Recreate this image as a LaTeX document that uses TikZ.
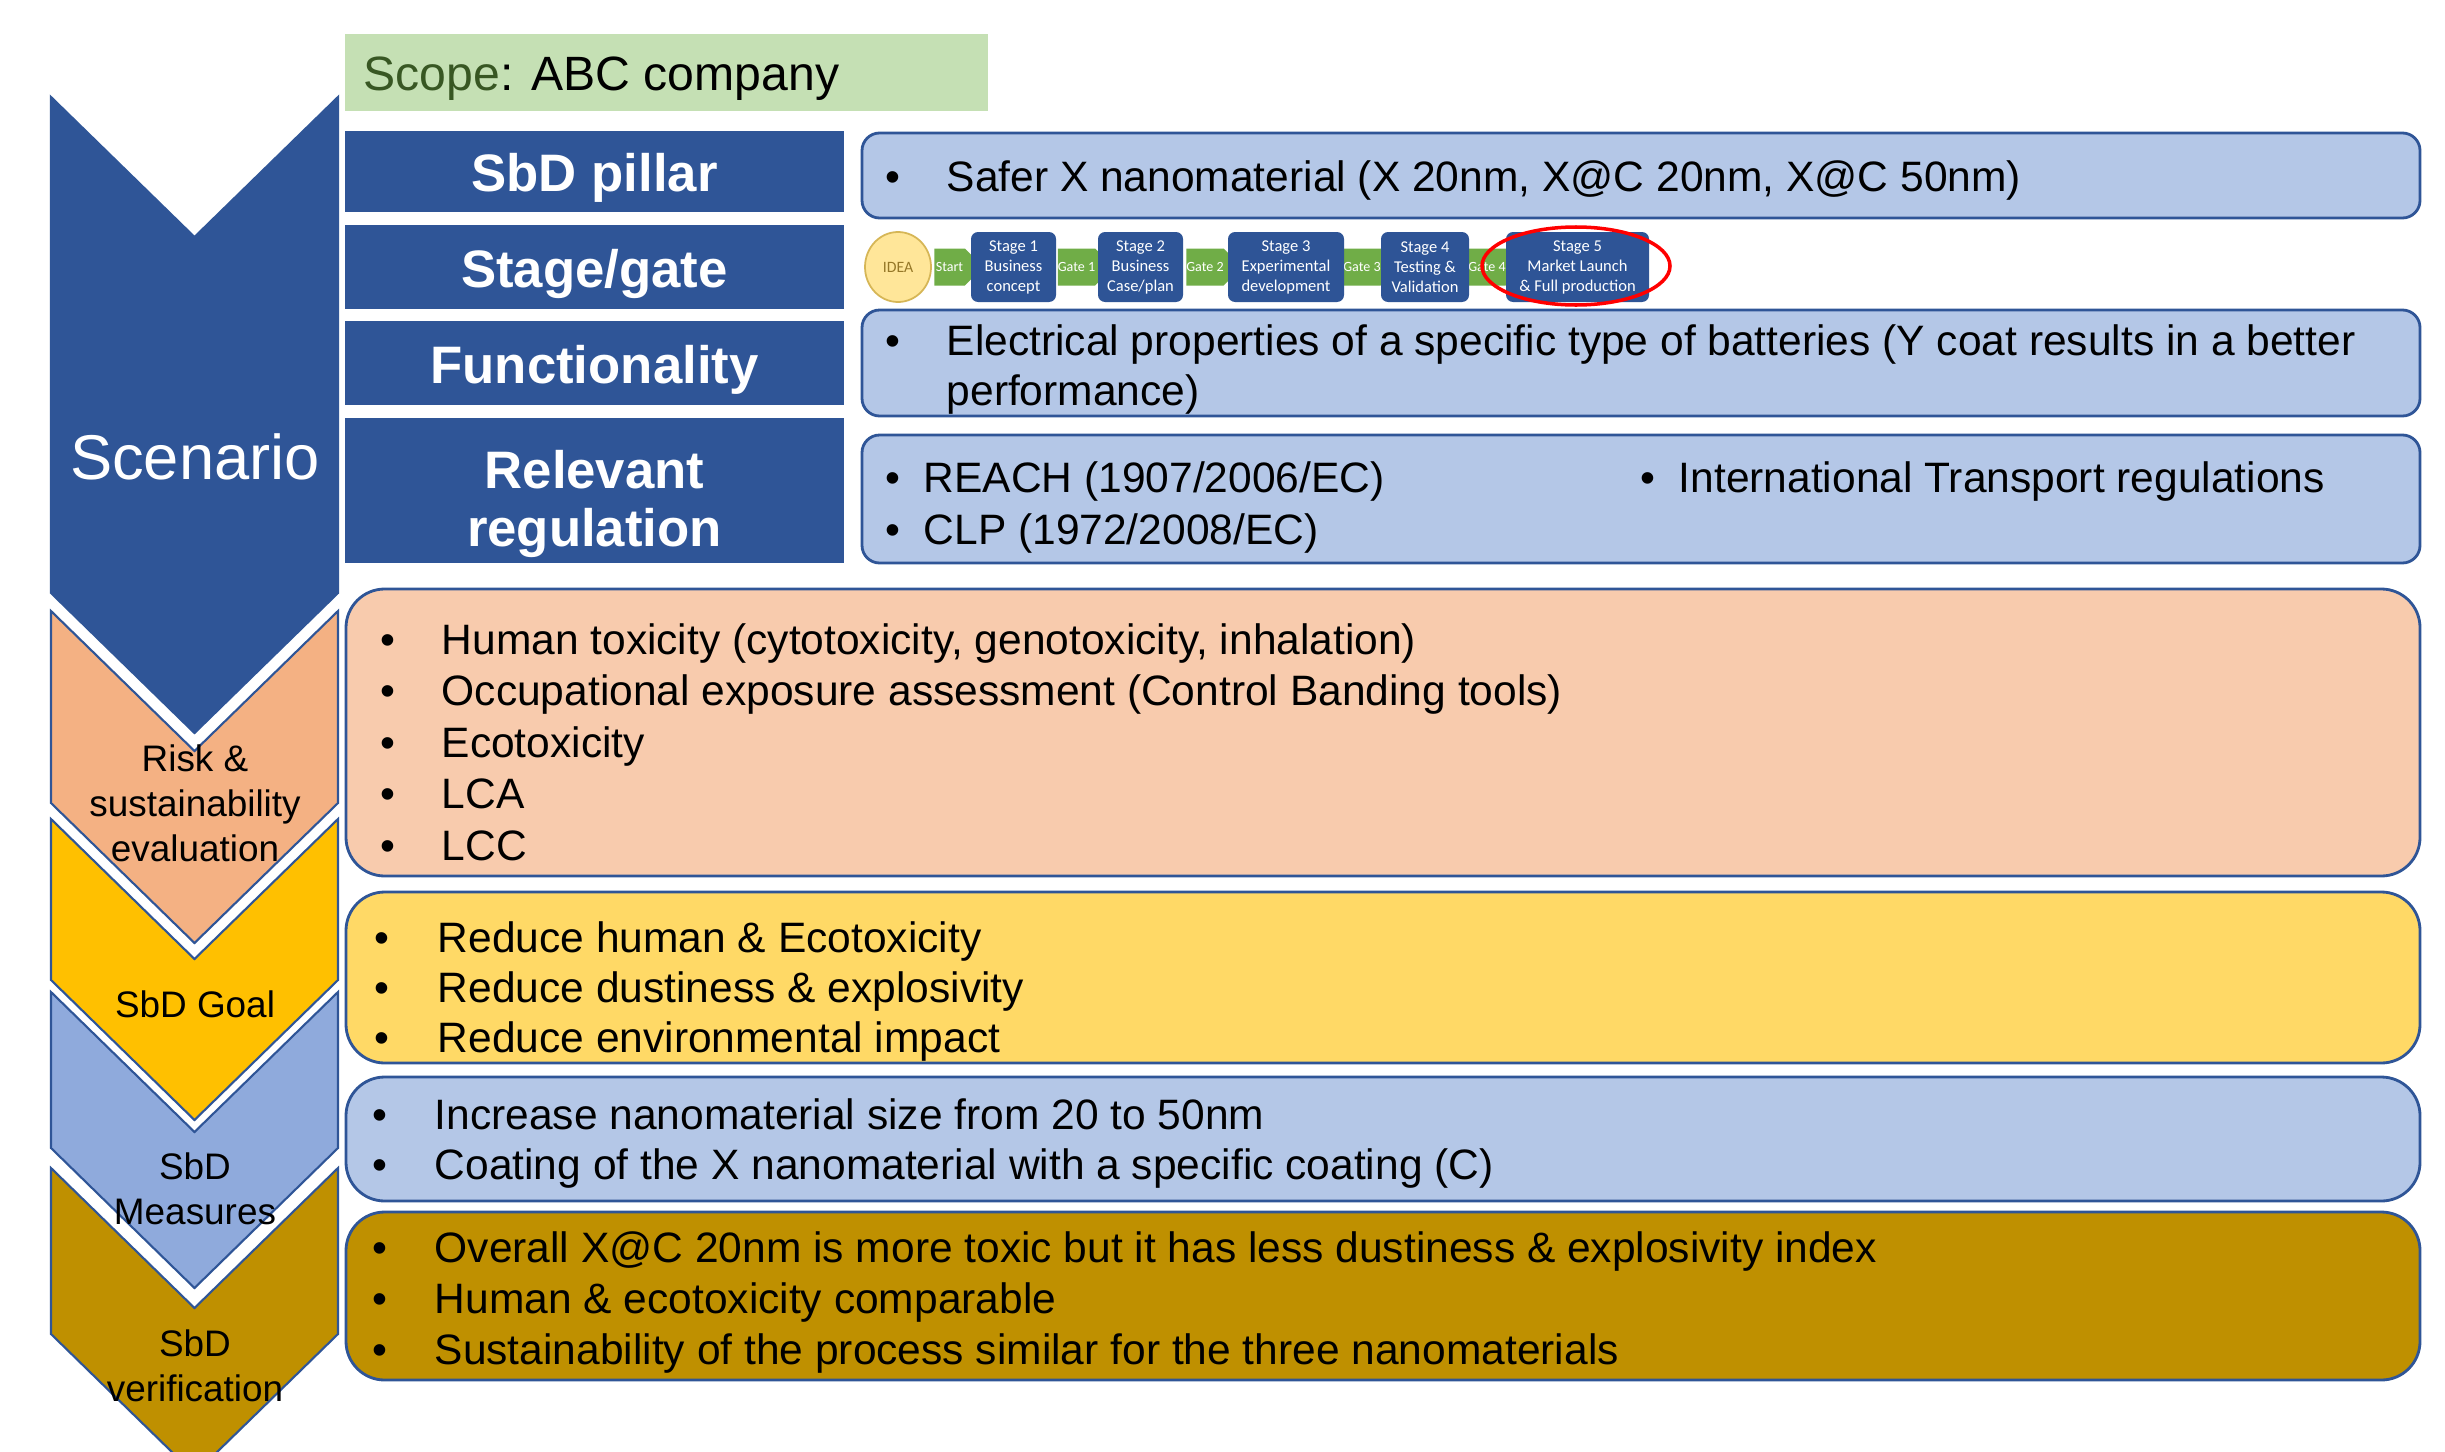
\documentclass[tikz,border=0pt]{standalone}
\usepackage{fontspec}
\setmainfont{Liberation Sans}
\newfontfamily\stripfont{Carlito}
\usetikzlibrary{shapes.geometric,shapes.symbols}
\definecolor{sbdblue}{RGB}{47,85,151}
\definecolor{stageblue}{RGB}{46,84,150}
\definecolor{riskdark}{RGB}{244,177,131}
\definecolor{riskfill}{RGB}{248,203,173}
\definecolor{goaldark}{RGB}{255,192,0}
\definecolor{goalfill}{RGB}{255,217,102}
\definecolor{measdark}{RGB}{143,170,220}
\definecolor{measfill}{RGB}{180,199,231}
\definecolor{verifgold}{RGB}{191,144,0}
\definecolor{scopefill}{RGB}{197,224,180}
\definecolor{scopegreen}{RGB}{56,87,35}
\definecolor{gategreen}{RGB}{112,173,71}
\definecolor{ideafill}{RGB}{255,230,153}
\definecolor{ideaedge}{RGB}{214,182,86}
\definecolor{ideatext}{RGB}{150,120,40}
\tikzset{
  head/.style={fill=sbdblue,minimum width=4.99cm,inner sep=0pt},
  headtxt/.style={anchor=base,inner sep=0pt,text=white,font=\fontsize{15}{16.5}\selectfont\bfseries},
  panel/.style={draw=sbdblue,line width=0.8pt,fill=#1,rounded corners=5pt,inner sep=0pt,
    minimum width=15.58cm},
  panel/.default=measfill,
  big/.style={draw=sbdblue,line width=0.8pt,fill=#1,rounded corners=11pt,inner sep=0pt,
    minimum width=20.74cm},
  item/.style={anchor=base west,inner sep=0pt,font=\fontsize{12.1}{14.6}\selectfont},
  dot/.style={anchor=base,inner sep=0pt,font=\fontsize{12.1}{14.6}\selectfont},
  chev/.style={fill=#1,draw=sbdblue,line width=0.6pt},
  tag/.style={align=center,inner sep=0pt,font=\fontsize{10.5}{12.8}\selectfont},
  stagebox/.style={fill=stageblue,rounded corners=2pt,minimum width=#1,minimum height=0.70cm,
    text=white,align=center,inner sep=0pt,font=\stripfont\fontsize{4.7}{5.7}\selectfont},
  gate/.style={signal,signal to=east,fill=gategreen,minimum width=#1,minimum height=0.37cm,
    inner sep=0pt,text=white,font=\stripfont\fontsize{4}{4}\selectfont},
  idea/.style={ellipse,fill=ideafill,draw=ideaedge,line width=0.5pt,minimum width=0.66cm,
    minimum height=0.70cm,inner sep=0pt,text=ideatext,font=\stripfont\fontsize{4.5}{5}\selectfont},
  % left chevron: top, bottom, colour
  pics/chevron/.style n args={3}{code={
    \draw[chev=#3] (0.51,-#1) -- (1.945,-#1-1.40) -- (3.38,-#1) -- (3.38,-#2)
      -- (1.945,-#2-1.40) -- (0.51,-#2) -- cycle;
  }},
}

\begin{document}
\begin{tikzpicture}
  \useasboundingbox (0,0) rectangle (24.45,-14.52);
  \clip (0,0) rectangle (24.45,-14.52);
  \fill[white] (0,0) rectangle (24.45,-14.52);

  % chevrons
  \pic (scen) {chevron={0.97}{5.93}{sbdblue}};
  \pic (risk) {chevron={6.11}{8.03}{riskdark}};
  \pic (goal) {chevron={8.19}{9.80}{goaldark}};
  \pic (meas) {chevron={9.92}{11.48}{measdark}};
  \pic (verif) {chevron={11.68}{13.34}{verifgold}};
  \node[font=\fontsize{18}{20}\selectfont,text=white] (scenlbl) at (1.95,-4.57) {Scenario};
  \node[tag] (risklbl) at (1.95,-8.03) {Risk \&\\sustainability\\evaluation};
  \node[tag] (goallbl) at (1.95,-10.04) {SbD Goal};
  \node[tag] (measlbl) at (1.95,-11.89) {SbD\\Measures};
  \node[tag] (veriflbl) at (1.95,-13.66) {SbD\\verification};

  % scope
  \node[fill=scopefill,minimum width=6.43cm,minimum height=0.77cm,inner sep=0pt] (scope) at (6.665,-0.725) {};
  \node[item,font=\fontsize{13.7}{16}\selectfont] (scopetxt) at (3.63,-0.90)
    {\textcolor{scopegreen}{Scope}: ABC company};

  % header column
  \node[head,minimum height=0.81cm] (hpillar) at (5.945,-1.715) {};
  \node[head,minimum height=0.84cm] (hstage) at (5.945,-2.67) {};
  \node[head,minimum height=0.84cm] (hfunc) at (5.945,-3.63) {};
  \node[head,minimum height=1.45cm] (hreg) at (5.945,-4.905) {};
  \node[headtxt] (hpillartxt) at (5.945,-1.91) {SbD pillar};
  \node[headtxt] (hstagetxt) at (5.945,-2.87) {Stage/gate};
  \node[headtxt] (hfunctxt) at (5.945,-3.83) {Functionality};
  \node[headtxt] (hregtxt1) at (5.945,-4.88) {Relevant};
  \node[headtxt] (hregtxt2) at (5.945,-5.46) {regulation};

  % panels
  \node[panel,minimum height=0.85cm] (ppillar) at (16.41,-1.755) {};
  \node[panel,minimum height=1.06cm] (pfunc) at (16.41,-3.63) {};
  \node[panel,minimum height=1.28cm] (preg) at (16.41,-4.99) {};
  \node[big=riskfill,minimum height=2.87cm] (prisk) at (13.83,-7.325) {};
  \node[big=goalfill,minimum height=1.71cm] (pgoal) at (13.83,-9.775) {};
  \node[big=measfill,minimum height=1.24cm] (pmeas) at (13.83,-11.39) {};
  \node[big=verifgold,minimum height=1.68cm] (pverif) at (13.83,-12.96) {};

  % panel texts
  \node[dot] (bpillar) at (8.93,-1.91) {•};
  \node[item] (tpillar) at (9.46,-1.91) {Safer X nanomaterial (X 20nm, X@C 20nm, X@C 50nm)};
  \node[dot] (bfunc) at (8.93,-3.55) {•};
  \node[item] (tfunc1) at (9.46,-3.55) {Electrical properties of a specific type of batteries (Y coat results in a better};
  \node[item] (tfunc2) at (9.46,-4.05) {performance)};
  \node[dot] (breg1) at (8.93,-4.92) {•};
  \node[item] (treg1) at (9.23,-4.92) {REACH (1907/2006/EC)};
  \node[dot] (breg2) at (8.93,-5.44) {•};
  \node[item] (treg2) at (9.23,-5.44) {CLP (1972/2008/EC)};
  \node[dot] (breg3) at (16.48,-4.92) {•};
  \node[item] (treg3) at (16.78,-4.92) {International Transport regulations};

  \foreach \txt [count=\i] in {{Human toxicity (cytotoxicity, genotoxicity, inhalation)},
      {Occupational exposure assessment (Control Banding tools)}, Ecotoxicity, LCA, LCC} {
    \node[dot] (brisk\i) at (3.88,{-6.54-0.515*(\i-1)}) {•};
    \node[item] (trisk\i) at (4.41,{-6.54-0.515*(\i-1)}) {\txt};
  }
  \foreach \txt [count=\i] in {{Reduce human \& Ecotoxicity}, {Reduce dustiness \& explosivity},
      {Reduce environmental impact}} {
    \node[dot] (bgoal\i) at (3.82,{-9.52-0.50*(\i-1)}) {•};
    \node[item] (tgoal\i) at (4.37,{-9.52-0.50*(\i-1)}) {\txt};
  }
  \foreach \txt [count=\i] in {{Increase nanomaterial size from 20 to 50nm},
      {Coating of the X nanomaterial with a specific coating (C)}} {
    \node[dot] (bmeas\i) at (3.80,{-11.29-0.50*(\i-1)}) {•};
    \node[item] (tmeas\i) at (4.34,{-11.29-0.50*(\i-1)}) {\txt};
  }
  \foreach \txt [count=\i] in {{Overall X@C 20nm is more toxic but it has less dustiness \& explosivity index},
      {Human \& ecotoxicity comparable}, {Sustainability of the process similar for the three nanomaterials}} {
    \node[dot] (bverif\i) at (3.80,{-12.62-0.51*(\i-1)}) {•};
    \node[item] (tverif\i) at (4.34,{-12.62-0.51*(\i-1)}) {\txt};
  }

  % stage/gate strip
  \node[gate=0.49cm] (start) at (9.495,-2.67) {Start};
  \node[gate=0.49cm] (gate1) at (10.765,-2.67) {Gate 1};
  \node[gate=0.52cm] (gate2) at (12.05,-2.67) {Gate 2};
  \node[gate=0.44cm] (gate3) at (13.62,-2.67) {Gate 3};
  \node[gate=0.44cm] (gate4) at (14.87,-2.67) {Gate 4};
  \node[idea] (ideanode) at (8.98,-2.67) {IDEA};
  \node[stagebox=0.85cm] (stage1) at (10.135,-2.67) {Stage 1\\Business\\concept};
  \node[stagebox=0.85cm] (stage2) at (11.405,-2.67) {Stage 2\\Business\\Case/plan};
  \node[stagebox=1.16cm] (stage3) at (12.86,-2.67) {Stage 3\\Experimental\\development};
  \node[stagebox=0.88cm] (stage4) at (14.25,-2.67) {Stage 4\\Testing \&\\Validation};
  \node[stagebox=1.43cm] (stage5) at (15.775,-2.67) {Stage 5\\Market Launch\\\& Full production};
  \node[ellipse,draw=red,line width=1pt,minimum width=1.88cm,minimum height=0.78cm,
    inner sep=0pt] (focus) at (15.76,-2.66) {};
\end{tikzpicture}
\end{document}
